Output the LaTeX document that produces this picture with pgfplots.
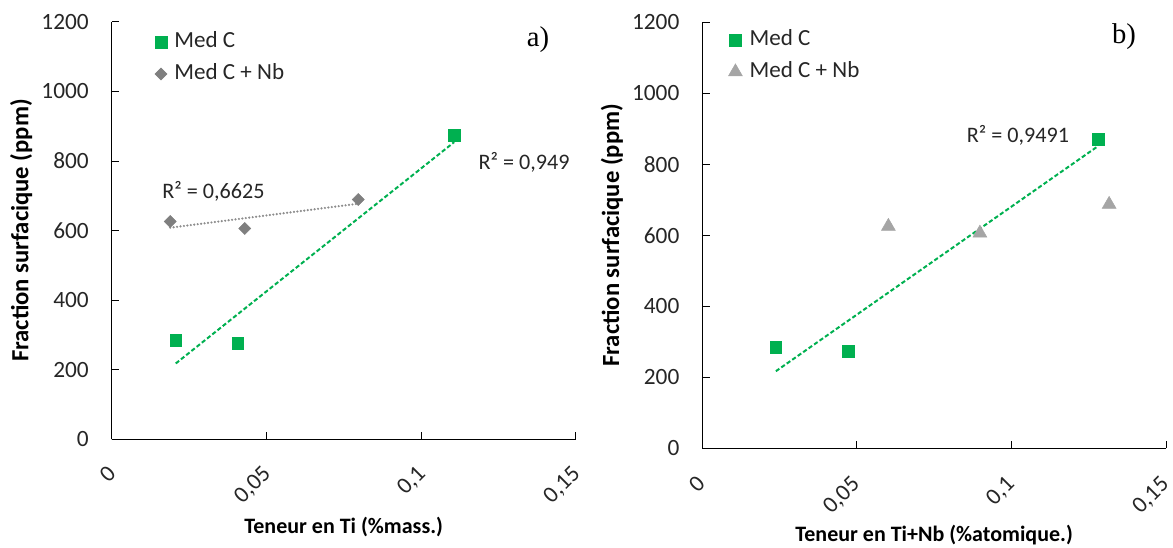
\documentclass[border=0pt]{standalone}
\usepackage{pgfplots}
\pgfplotsset{compat=1.18}
\usepackage{fontspec}
\setmainfont{Carlito}
\newfontfamily\seriffont{Liberation Serif}
\definecolor{mgreen}{HTML}{00B050}
\definecolor{dgray}{HTML}{7F7F7F}
\definecolor{tgray}{HTML}{A5A5A5}
\definecolor{lgray}{HTML}{8C8C8C}
\definecolor{txt}{HTML}{262626}

\pgfplotstableread{
x y
0.0207 284
0.0407 276
0.1107 873
}\medCa
\pgfplotstableread{
x y
0.0189 626
0.0430 606
0.0797 689
}\medCNba
\pgfplotstableread{
x y
0.0238 284
0.0472 273
0.1280 870
}\medCb
\pgfplotstableread{
x y
0.0602 625
0.0898 606
0.1316 687
}\medCNbb

\pgfplotsset{
  mystyle/.style={
    scale only axis, anchor=south west,
    xmin=0, xmax=0.15, ymin=0, ymax=1200,
    axis lines=left, axis line style={-, black, line width=0.6pt},
    xtick={0,0.05,0.1,0.15}, xticklabels={0,{0,05},{0,1},{0,15}},
    ytick={0,200,400,600,800,1000,1200},
    yticklabels={0,200,400,600,800,1000,1200},
    tick align=inside, major tick length=5.5pt,
    tick style={black, line width=0.6pt},
    xticklabel style={xshift=-4pt, yshift=-18.5pt, rotate=45, anchor=north east, inner sep=0pt, font=\fontsize{17.5}{21}\selectfont, text=txt},
    yticklabel style={anchor=east, inner sep=0pt, xshift=-17pt, font=\fontsize{17.5}{21}\selectfont, text=txt},
    xlabel style={at={(axis description cs:0.5,0)}, anchor=center, font=\bfseries\fontsize{16.5}{20}\selectfont, text=black},
    ylabel style={at={(axis description cs:0,0.5)}, anchor=center, font=\bfseries\fontsize{18.5}{22}\selectfont, text=black},
    clip=false,
    legend cell align=left,
    legend image code/.code={\draw[##1] plot coordinates {(0pt,0pt)};},
    legend style={draw=none, fill=none, inner sep=0pt, row sep=7.7pt,
      font=\fontsize{17.3}{21}\selectfont, text=txt,
      nodes={inner xsep=0pt, inner ysep=0pt, text height=12pt, text depth=4pt},
      /tikz/every odd column/.append style={column sep=5.5pt}},
  }
}

\begin{document}
\begin{tikzpicture}
\path[use as bounding box] (0,0) rectangle (879.75pt,411pt);

% ---------- a) ----------
\begin{axis}[mystyle,
  at={(83.8pt,81.5pt)}, width=348pt, height=313.2pt,
  xlabel={Teneur en Ti (\%mass.)},
  ylabel={Fraction surfacique (ppm)},
  xlabel style={yshift=-65.5pt},
  ylabel style={yshift=68pt},
  legend style={at={(axis cs:0.0139,1172)}, anchor=north west},
]
\addplot[only marks, mark=square*, mark size=4.4pt, color=mgreen] table {\medCa};
\addlegendentry{Med C}
\addplot[only marks, mark=square*, mark options={rotate=45}, mark size=3.2pt, color=dgray] table {\medCNba};
\addlegendentry{Med C + Nb}
\addplot[forget plot, mgreen, line width=1.5pt, dash pattern=on 3.2pt off 1.8pt] coordinates {(0.0207,218) (0.1107,854)};
\addplot[forget plot, lgray, line width=1.8pt, line cap=round, dash pattern=on 0pt off 2.6pt] coordinates {(0.0189,608) (0.0797,677)};
\node[font=\fontsize{16.6}{20}\selectfont, text=txt] at (axis cs:0.0329,711.5) {R² = 0,6625};
\node[font=\fontsize{16.6}{20}\selectfont, text=txt] at (axis cs:0.1333,796.8) {R² = 0,949};
\node[font=\seriffont\fontsize{21.5}{25}\selectfont, text=black] at (axis cs:0.1378,1150) {a)};
\end{axis}

% ---------- b) ----------
\begin{axis}[mystyle,
  at={(526.7pt,74.8pt)}, width=347.8pt, height=319.5pt,
  xlabel={Teneur en Ti+Nb (\%atomique.)},
  ylabel={Fraction surfacique (ppm)},
  xlabel style={yshift=-65pt},
  ylabel style={yshift=67.7pt},
  xticklabel style={xshift=-1.5pt},
  legend style={at={(axis cs:0.0084,1180)}, anchor=north west},
]
\addplot[only marks, mark=square*, mark size=4.4pt, color=mgreen] table {\medCb};
\addlegendentry{Med C}
\addplot[only marks, mark=triangle*, mark size=6pt, color=tgray] table {\medCNbb};
\addlegendentry{Med C + Nb}
\addplot[forget plot, mgreen, line width=1.5pt, dash pattern=on 3.2pt off 1.8pt] coordinates {(0.0238,217) (0.1280,851)};
\node[font=\fontsize{16.6}{20}\selectfont, text=txt] at (axis cs:0.1021,882.5) {R² = 0,9491};
\node[font=\seriffont\fontsize{21.5}{25}\selectfont, text=black] at (axis cs:0.1364,1159) {b)};
\end{axis}
\end{tikzpicture}
\end{document}
